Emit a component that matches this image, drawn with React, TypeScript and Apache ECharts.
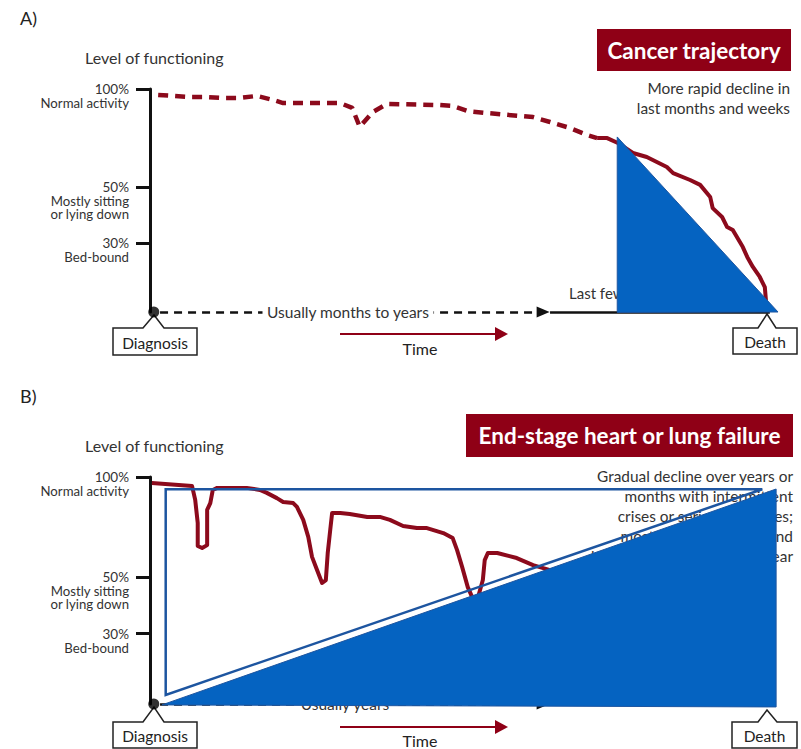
import React, { useEffect, useRef } from 'react';
import * as echarts from 'echarts';

// ---------------- data ----------------
// y-axis reference levels (axis units) and their labels
const yTickValues = [31, 56, 100];
const yTickLevels = ['30%', '50%', '100%'];
const yTickDescriptions = ['Bed-bound', 'Mostly sitting\nor lying down', 'Normal activity'];

// Panel A – cancer trajectory (x: time 0-100, y: level of functioning)
const cancerDashed: number[][] = [
  [1.3, 97.3], [3.7, 96.9], [6.4, 96.4], [9.1, 96.4], [11.6, 96.0], [14.3, 96.0], [17.0, 96.9],
  [19.6, 95.1], [21.2, 93.7], [30.3, 93.7], [32.2, 91.5], [33.4, 83.0], [35.5, 89.7], [37.7, 93.3],
  [46.2, 92.8], [48.2, 92.4], [50.6, 90.1], [53.7, 89.2], [61.0, 87.4], [63.7, 85.2], [66.9, 82.5],
  [69.6, 79.4], [71.2, 78.0],
];
const cancerSolid: number[][] = [
  [71.2, 78.0], [72.8, 78.0], [74.5, 75.8], [76.9, 71.3], [79.1, 69.5], [82.3, 65.0], [83.3, 62.3],
  [86.0, 59.2], [87.6, 57.0], [89.2, 51.6], [89.6, 46.6], [91.1, 42.6], [91.9, 38.1], [92.8, 36.8],
  [94.4, 29.1], [95.1, 24.7], [96.0, 20.2], [97.1, 15.7], [97.9, 11.2], [98.1, 4.5],
];
const cancerTriangle: number[][] = [[74.4, 78.5], [74.4, -0.2], [100, 0]];

// Panel B – end-stage heart or lung failure
const heartCurve: number[][] = [
  [0.3, 97.4], [6.7, 96.0], [7.2, 89.9], [7.6, 79.7], [7.6, 69.6], [8.3, 68.7], [9.1, 70.0], [9.1, 85.5],
  [9.6, 88.5], [10.0, 94.3], [10.7, 95.2], [15.4, 95.2], [17.5, 94.3], [18.6, 93.0], [20.2, 90.7],
  [21.2, 89.0], [22.8, 88.5], [23.4, 86.8], [24.4, 81.1], [25.2, 73.6], [25.8, 64.8], [26.6, 59.0],
  [27.4, 53.3], [28.0, 54.6], [28.3, 66.5], [28.7, 76.7], [29.0, 84.1], [30.3, 84.1], [31.8, 83.7],
  [34.6, 82.4], [36.6, 82.4], [38.2, 81.1], [40.3, 78.4], [42.5, 77.5], [44.1, 77.5], [46.7, 75.3],
  [48.2, 73.1], [48.9, 67.8], [49.7, 60.4], [50.6, 51.5], [51.3, 47.1], [52.2, 46.7], [53.0, 54.6],
  [53.3, 63.4], [53.8, 66.5], [55.3, 66.5], [58.4, 64.3], [61.0, 61.2], [63.7, 59.0], [66.9, 56.4],
];
const heartOutlineTriangle: number[][] = [[2.5, 94.6], [2.5, 4.0], [97.5, 94.6]];
const heartFilledTriangle: number[][] = [[1.9, -0.4], [99.7, 94.7], [99.7, -1.3]];

// time line: diagnosis point, dashed span, solid span (x in time units)
const diagnosisX = 0.6;
const dashedSpan = [1.6, 62.6];
const solidSpan = [63.7, 98.7];

// ---------------- styles ----------------
const FONT = 'Lato, "Noto Sans", sans-serif';
const TITLE_RED = '#8f0016';
const LINE_RED = '#8c0a1c';
const BLUE = '#0563c1';
const BLUE_EDGE = '#1d55a0';
const INK = '#222';
const GREY = '#333';
const DESC_SHIFT = 3.4; // description block starts just below each level label

function nearestIndex(list: number[], v: number) {
  let best = 0;
  list.forEach((t, i) => {
    if (Math.abs(t - v) < Math.abs(list[best] - v)) best = i;
  });
  return best;
}

function triangleSeries(grid: number, yIdx: number, pts: number[][], fill: string, stroke: string, lw: number, z: number) {
  return {
    type: 'custom',
    xAxisIndex: grid,
    yAxisIndex: yIdx,
    silent: true,
    z,
    clip: false,
    data: [pts.flat()],
    renderItem: (_p: any, api: any) => {
      const points = [0, 1, 2].map((k) => api.coord([api.value(2 * k), api.value(2 * k + 1)]));
      return { type: 'polygon', shape: { points }, style: { fill, stroke, lineWidth: lw } };
    },
  };
}

function timelineSeries(grid: number, yIdx: number) {
  const dash = { color: '#111', width: 2.5, type: [8, 6] };
  const solid = { color: '#111', width: 2.5, type: 'solid' };
  return {
    type: 'line',
    xAxisIndex: grid,
    yAxisIndex: yIdx,
    data: [],
    z: 2,
    silent: true,
    markLine: {
      silent: true,
      animation: false,
      z: 2,
      symbol: ['none', 'none'],
      label: { show: false },
      data: [
        [
          { coord: [dashedSpan[0], 0], symbol: 'none', lineStyle: dash },
          { coord: [dashedSpan[1], 0], symbol: 'triangle', symbolSize: [11, 13], lineStyle: dash, itemStyle: { color: '#111' } },
        ],
        [
          { coord: [solidSpan[0], 0], symbol: 'none', lineStyle: solid },
          { coord: [solidSpan[1], 0], symbol: 'none', lineStyle: solid },
        ],
      ],
    },
  };
}

function text(x: number, y: number, t: string, o: any = {}) {
  const align = o.align || 'left';
  const va = o.va || 'middle';
  return {
    type: 'text',
    x,
    y,
    z: o.z ?? 1,
    silent: true,
    style: {
      text: t,
      fill: o.fill || GREY,
      fontSize: o.size || 14,
      fontFamily: FONT,
      fontWeight: o.weight || 'normal',
      align,
      textAlign: align,
      verticalAlign: va,
      textVerticalAlign: va,
      lineHeight: o.lh,
    },
  };
}

function maskedLabel(cx: number, cy: number, w: number, t: string) {
  return [
    { type: 'rect', z: 7, silent: true, shape: { x: cx - w / 2, y: cy - 6, width: w, height: 12 }, style: { fill: '#fff' } },
    text(cx, cy, t, { align: 'center', size: 15.5, z: 8 }),
  ];
}

function callout(x0: number, x1: number, yTop: number, yBot: number, ax: number, ay: number, n0: number, n1: number, label: string) {
  return [
    {
      type: 'polygon',
      z: 1,
      silent: true,
      shape: { points: [[x0, yTop], [n0, yTop], [ax, ay], [n1, yTop], [x1, yTop], [x1, yBot], [x0, yBot]] },
      style: { fill: '#fff', stroke: INK, lineWidth: 1.5 },
    },
    text((x0 + x1) / 2, (yTop + yBot) / 2 + 1, label, { align: 'center', size: 15.5, fill: INK, z: 2 }),
  ];
}

function timeArrow(y: number, ty: number) {
  return [
    { type: 'line', z: 1, silent: true, shape: { x1: 340, y1: y, x2: 498, y2: y }, style: { stroke: TITLE_RED, lineWidth: 2 } },
    { type: 'polygon', z: 1, silent: true, shape: { points: [[495, y - 7], [508, y], [495, y + 7]] }, style: { fill: TITLE_RED } },
    text(420, ty, 'Time', { align: 'center', size: 16, fill: INK, lh: 15 }),
  ];
}

function titleBox(x: number, y: number, w: number, h: number, t: string) {
  return [
    { type: 'rect', z: 1, silent: true, shape: { x, y, width: w, height: h }, style: { fill: TITLE_RED } },
    text(x + w / 2, y + h / 2, t, { align: 'center', size: 22.5, weight: 'bold', fill: '#fff', z: 2 }),
  ];
}

export default function App() {
  const ref = useRef<HTMLDivElement>(null);

  useEffect(() => {
    document.body.style.margin = '0';
    if (!ref.current) return;
    const chart = echarts.init(ref.current, undefined, { renderer: 'svg' });

    const yLevelAxis = (gridIndex: number) => ({
      gridIndex,
      type: 'value',
      min: 0,
      max: 100,
      axisLine: { show: true, lineStyle: { color: '#111', width: 3 } },
      axisTick: { show: true, customValues: yTickValues, length: 14, lineStyle: { color: '#111', width: 3 } },
      axisLabel: {
        show: true,
        customValues: yTickValues,
        margin: 21,
        formatter: (v: number) => yTickLevels[nearestIndex(yTickValues, v)],
        color: GREY,
        fontSize: 13.5,
        lineHeight: 13,
        fontFamily: FONT,
        align: 'right',
        verticalAlign: 'middle',
      },
      splitLine: { show: false },
    });
    const descValues = yTickValues.map((v) => v - DESC_SHIFT);
    const yDescAxis = (gridIndex: number) => ({
      gridIndex,
      type: 'value',
      min: 0,
      max: 100,
      position: 'left',
      axisLine: { show: false },
      axisTick: { show: false },
      axisLabel: {
        show: true,
        customValues: descValues,
        margin: 21,
        formatter: (v: number) => yTickDescriptions[nearestIndex(descValues, v)],
        color: GREY,
        fontSize: 13.2,
        lineHeight: 13.2,
        fontFamily: FONT,
        align: 'right',
        verticalAlign: 'top',
      },
      splitLine: { show: false },
    });

    const graphic: any[] = [
      // Panel A
      text(20, 18, 'A)', { size: 18, fill: INK }),
      text(85, 57, 'Level of functioning', { size: 16 }),
      ...titleBox(597, 29, 194, 42, 'Cancer trajectory'),
      text(790, 78, 'More rapid decline in\nlast months and weeks', { align: 'right', size: 15.4, lh: 20, va: 'top' }),
      text(569, 293, 'Last few months', { size: 15 }),
      ...maskedLabel(348, 312, 171, 'Usually months to years'),
      ...callout(113, 197, 328, 355, 154, 315, 143, 164, 'Diagnosis'),
      ...callout(733, 797, 328, 354, 767, 314, 758, 776, 'Death'),
      ...timeArrow(334, 348),
      // Panel B
      text(20, 396, 'B)', { size: 18, fill: INK }),
      text(85, 445, 'Level of functioning', { size: 16 }),
      ...titleBox(466, 414, 327, 43, 'End-stage heart or lung failure'),
      text(793, 466, 'Gradual decline over years or\nmonths with intermittent\ncrises or serious episodes;\nmostly sudden death, and\nhard to predict in the last year', { align: 'right', size: 15.4, lh: 20, va: 'top' }),
      ...maskedLabel(345, 704, 100, 'Usually years'),
      ...callout(113, 197, 722, 748, 154, 707, 143, 164, 'Diagnosis'),
      ...callout(732, 797, 722, 748, 767, 710, 758, 777, 'Death'),
      ...timeArrow(727, 740),
    ];

    const option: any = {
      animation: false,
      textStyle: { fontFamily: FONT },
      grid: [
        { left: 150, top: 89, width: 628, height: 223, outerBoundsMode: 'none' },
        { left: 150, top: 477, width: 628, height: 227, outerBoundsMode: 'none' },
      ],
      xAxis: [0, 1].map((i) => ({ gridIndex: i, type: 'value', min: 0, max: 100, show: false })),
      yAxis: [yLevelAxis(0), yDescAxis(0), yLevelAxis(1), yDescAxis(1)],
      graphic,
      series: [
        // Panel A
        timelineSeries(0, 0),
        {
          type: 'line', name: 'Cancer (earlier)', xAxisIndex: 0, yAxisIndex: 0, data: cancerDashed,
          symbol: 'none', silent: true, z: 3,
          lineStyle: { color: LINE_RED, width: 4.5, type: [10, 7], cap: 'butt' },
        },
        {
          type: 'line', name: 'Cancer (last months)', xAxisIndex: 0, yAxisIndex: 0, data: cancerSolid,
          symbol: 'none', silent: true, z: 3,
          lineStyle: { color: LINE_RED, width: 4, join: 'round' },
        },
        {
          type: 'scatter', xAxisIndex: 0, yAxisIndex: 0, data: [[diagnosisX, 0]], symbolSize: 11, z: 4,
          itemStyle: { color: '#000' }, silent: true,
        },
        triangleSeries(0, 0, cancerTriangle, BLUE, BLUE_EDGE, 1, 10),
        // Panel B
        timelineSeries(1, 2),
        {
          type: 'line', name: 'Heart or lung failure', xAxisIndex: 1, yAxisIndex: 2, data: heartCurve,
          symbol: 'none', silent: true, z: 3,
          lineStyle: { color: LINE_RED, width: 4, join: 'round' },
        },
        {
          type: 'scatter', xAxisIndex: 1, yAxisIndex: 2, data: [[diagnosisX, 0]], symbolSize: 11, z: 4,
          itemStyle: { color: '#000' }, silent: true,
        },
        triangleSeries(1, 2, heartOutlineTriangle, 'none', BLUE_EDGE, 2.5, 9),
        triangleSeries(1, 2, heartFilledTriangle, BLUE, BLUE_EDGE, 1, 10),
      ],
    };

    chart.setOption(option);
    return () => chart.dispose();
  }, []);

  return <div ref={ref} style={{ width: 801, height: 749 }} />;
}
